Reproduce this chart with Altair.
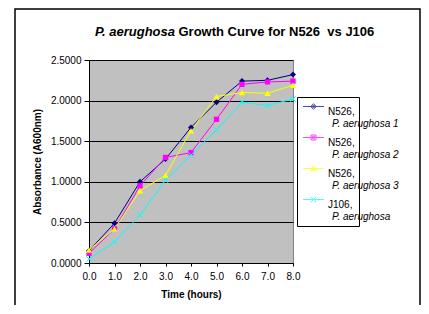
import altair as alt
import pandas as pd

hours = [0.0, 1.0, 2.0, 3.0, 4.0, 5.0, 6.0, 7.0, 8.0]
series = ["N526, P. aerughosa 1", "N526, P. aerughosa 2", "N526, P. aerughosa 3", "J106, P. aerughosa"]
n526_1 = [0.15, 0.49, 1.00, 1.28, 1.67, 1.98, 2.24, 2.25, 2.32]
n526_2 = [0.12, 0.42, 0.95, 1.30, 1.36, 1.77, 2.20, 2.23, 2.24]
n526_3 = [0.16, 0.42, 0.89, 1.08, 1.63, 2.05, 2.10, 2.09, 2.19]
j106 = [0.05, 0.26, 0.59, 1.02, 1.33, 1.64, 1.98, 1.94, 2.02]
colors = ["#000080", "#FF00FF", "#FFFF00", "#00FFFF"]
y_ticks = [0.0, 0.5, 1.0, 1.5, 2.0, 2.5]
title_italic = "P. aerughosa"
title_rest = "Growth Curve for N526\u00a0 vs J106"

FONT = "Liberation Sans"

rows = []
for name, vals in zip(series, [n526_1, n526_2, n526_3, j106]):
    for t, v in zip(hours, vals):
        rows.append({"time": t, "absorbance": v, "series": name, "series_b": name + " "})
df = pd.DataFrame(rows)
series_b = [s + " " for s in series]

marker_defs = [
    dict(shape="diamond", size=36, filled=True),
    dict(shape="square", size=28, filled=True),
    dict(shape="triangle-up", size=40, filled=True),
    dict(shape="M-1,-1L1,1M-1,1L1,-1", size=30, filled=False),
]
legend_paths = [
    "M-2.1,0H2.1M0,-0.56L0.56,0L0,0.56L-0.56,0ZM0,-0.3L0.3,0L0,0.3L-0.3,0Z",
    "M-2.1,0H2.1M-0.5,-0.5H0.5V0.5H-0.5ZM-0.25,-0.25H0.25V0.25H-0.25Z",
    "M-2.1,0H2.1M0,-0.6L0.6,0.45L-0.6,0.45ZM0,-0.2L0.25,0.25L-0.25,0.25Z",
    "M-2.1,0H2.1M-0.56,-0.56L0.56,0.56M-0.56,0.56L0.56,-0.56",
]

x_enc = alt.X("time:Q", scale=alt.Scale(domain=[0, 8], nice=False),
              axis=alt.Axis(title="Time (hours)", values=hours, format=".1f", grid=False,
                            tickSize=3, labelPadding=5, titlePadding=8, labelOverlap=False,
                            labelFlush=False))
y_enc = alt.Y("absorbance:Q", scale=alt.Scale(domain=[0, 2.5], nice=False),
              axis=alt.Axis(title="Absorbance (A600nm)", values=y_ticks, format=".4f",
                            grid=True, gridColor="black", gridWidth=1, tickSize=5,
                            labelPadding=3, titlePadding=8, labelOverlap=False))
color_scale = alt.Scale(domain=series, range=colors)

common_legend = dict(
    title=None, orient="none", legendX=208, legendY=37, padding=4,
    symbolSize=100, symbolStrokeWidth=1, symbolOffset=7,
    labelFont=FONT, labelFontSize=10, labelColor="black",
    labelBaseline="top", rowPadding=3,
)
legend_a = alt.Legend(
    strokeColor="black", fillColor="white", labelOffset=9, labelLimit=88,
    labelExpr="[split(datum.label, ' ')[0], '']",
    **common_legend,
)
legend_b = alt.Legend(
    labelOffset=13, labelFontStyle="italic", symbolType="M0,0", labelLimit=200,
    symbolStrokeColor="transparent", symbolFillColor="transparent",
    labelExpr="['', trim(slice(datum.label, indexof(datum.label, ' ') + 1))]",
    **common_legend,
)

frame = alt.Chart(pd.DataFrame({"k": [0]})).mark_rect(
    fillOpacity=0, stroke="black", strokeWidth=1.5
).encode(x=alt.value(-74), x2=alt.value(331), y=alt.value(-51), y2=alt.value(280))

lines = alt.Chart(df).mark_line(strokeWidth=1).encode(
    x=x_enc, y=y_enc,
    color=alt.Color("series:N", scale=color_scale, legend=legend_a),
    order="time:Q",
)

point_layers = []
for name, col, md in zip(series, colors, marker_defs):
    point_layers.append(
        alt.Chart(df).transform_filter(alt.datum.series == name).mark_point(
            shape=md["shape"], size=md["size"], filled=md["filled"], color=col,
            opacity=1, strokeWidth=1
        ).encode(x=x_enc, y=y_enc)
    )

legend_layer = alt.Chart(df).transform_filter("datum.time < 0").mark_point(
    filled=False, strokeWidth=1
).encode(
    x=x_enc, y=y_enc,
    color=alt.Color("series:N", scale=color_scale, legend=legend_a),
    shape=alt.Shape("series:N", scale=alt.Scale(domain=series, range=legend_paths), legend=legend_a),
    opacity=alt.Opacity("series_b:N", scale=alt.Scale(domain=series_b, range=[1, 1, 1, 1]), legend=legend_b),
)

title_df = pd.DataFrame({"a": [title_italic], "b": [title_rest]})
t1 = alt.Chart(title_df).mark_text(
    font=FONT, fontSize=13, fontWeight="bold", fontStyle="italic", align="right",
    baseline="alphabetic", color="black"
).encode(text="a:N", x=alt.value(86), y=alt.value(-24))
t2 = alt.Chart(title_df).mark_text(
    font=FONT, fontSize=13, fontWeight="bold", align="left",
    baseline="alphabetic", color="black"
).encode(text="b:N", x=alt.value(89.5), y=alt.value(-24))

chart = alt.layer(frame, lines, *point_layers, legend_layer, t1, t2).properties(
    width=204, height=203,
    autosize=alt.AutoSizeParams(type="none"),
    padding={"left": 81, "top": 52, "right": 128, "bottom": 42},
    background="white",
).configure_view(
    fill="#C0C0C0", stroke="#808080", strokeWidth=1
).configure_axis(
    labelFont=FONT, labelFontSize=10, labelColor="black",
    titleFont=FONT, titleFontSize=10, titleFontWeight="bold", titleColor="black",
    domainColor="black", tickColor="black", domainWidth=1, tickWidth=1,
)

chart.save("out.html", embed_options={"renderer": "svg", "actions": False})
